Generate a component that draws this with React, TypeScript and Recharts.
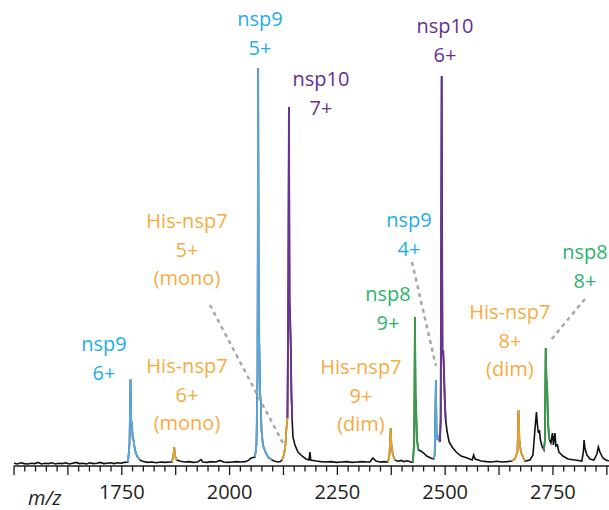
import React from "react";
import { LineChart, Line, XAxis, YAxis, ReferenceLine, ReferenceDot } from "recharts";

type Pt = [number, number];

// ---- spectrum segments: [m/z, relative intensity] ----
const black1: Pt[] = [[1500,0.7],[1508,0.5],[1516,0.8],[1524,0.6],[1532,0.5],[1540,0.7],[1548,0.6],[1556,0.9],[1564,0.5],[1572,0.7],[1580,0.6],[1588,0.8],[1596,0.5],[1604,0.7],[1612,0.6],[1620,0.8],[1628,0.5],[1636,0.7],[1644,0.9],[1652,0.6],[1660,0.7],[1668,0.5],[1676,0.8],[1684,0.6],[1692,0.7],[1700,0.9],[1708,0.6],[1716,0.7],[1724,0.8],[1732,0.6],[1740,0.8],[1748,0.7],[1756,0.9],[1764.4,1.0]];
const nsp9z6: Pt[] = [[1764.4,1.0],[1767.8,5.25],[1770.2,21.75],[1771.8,11.5],[1773.6,10.25],[1775.3,7],[1777.1,6.5],[1780.6,4],[1785.2,2.5],[1792.2,1.5]];
const black2: Pt[] = [[1800,1.1],[1810,0.9],[1820,1.0],[1830,0.8],[1840,1.0],[1850,0.9],[1860,1.0],[1866.4,1.0]];
const nsp7z6: Pt[] = [[1866.4,1.0],[1869.9,2.75],[1871.7,4.75],[1873.4,2.5],[1878,1.5]];
const black3: Pt[] = [[1886,1.2],[1896,1.0],[1906,1.1],[1916,0.9],[1926,1.0],[1934,1.6],[1938,1.0],[1948,0.9],[1958,1.1],[1968,1.0],[1978,1.4],[1986,1.0],[1996,0.9],[2006,1.0],[2016,1.1],[2026,1.0],[2036,1.1],[2044,1.4],[2050,2.0],[2058.9,2.25]];
const nsp9z5: Pt[] = [[2058.9,2.25],[2062.3,5.25],[2064.7,21.5],[2066.3,99.5],[2067.7,34],[2069.1,30.25],[2070.5,18.25],[2072.3,16.5],[2074,9],[2077.4,5.25],[2083.2,3.5],[2089,2.25],[2098.3,1.5]];
const black4: Pt[] = [[2105,1.2],[2112,1.0],[2118,1.1],[2121.5,1.5]];
const nsp7z5: Pt[] = [[2121.5,1.5],[2126.1,2.75],[2129.6,5.25],[2131.9,9.5],[2134.2,12]];
const nsp10z7: Pt[] = [[2134.2,12],[2136.1,41.5],[2137.7,89.75],[2139.1,41.5],[2140.5,36.5],[2141.9,30.25],[2143.5,17.75],[2145.2,11.5]];
const black5: Pt[] = [[2147,7.25],[2151.6,5.25],[2158.6,3.5],[2167.9,2.5],[2177.1,1.75],[2184.1,1.5],[2186.4,3.5],[2188.2,1.5],[2200.3,1.25],[2212,1.1],[2224,1.0],[2236,1.1],[2248,0.9],[2260,1.0],[2272,1.1],[2284,0.9],[2296,1.0],[2308,1.1],[2318,1.0],[2325.6,1.0],[2332.5,2],[2339.5,1.25],[2348,1.0],[2358,1.1],[2367.3,1.0]];
const nsp7z9: Pt[] = [[2367.3,1],[2370.8,2.75],[2373.6,9.5],[2375.4,5.25],[2378.9,2.75],[2383.5,1.5]];
const black6: Pt[] = [[2390,1.2],[2398,1.4],[2404,1.1],[2412,1.3],[2420,1.0],[2425.3,1.0]];
const nsp8z9: Pt[] = [[2425.3,1],[2428.3,6.5],[2429.9,37.25],[2431.3,17.75],[2432.7,14],[2434.6,6.5],[2438,4]];
const black7: Pt[] = [[2443.3,3.75],[2450.2,3.25],[2457.2,2.5],[2466.4,2],[2473.4,1.75]];
const nsp9z4: Pt[] = [[2473.4,1.75],[2475.7,2.75],[2478.5,21.5],[2480.3,6.5],[2482.6,7.5],[2486.1,6.5],[2488,6]];
const nsp10z6: Pt[] = [[2488,6],[2489.6,11.5],[2491.9,97.5],[2493.7,27.75],[2495.4,29],[2497.2,24],[2499.1,16.5],[2501.2,11.5]];
const black8: Pt[] = [[2504.6,8.5],[2509.3,6],[2516.2,4.75],[2525.5,3.5],[2537.1,2.5],[2551,2],[2562.6,1.5],[2566.1,2.75],[2569.6,1.75],[2583.5,1.25],[2596,1.1],[2608,1.0],[2620,1.2],[2632,1.0],[2644,1.1],[2654.8,1.25]];
const nsp7z8: Pt[] = [[2654.8,1.25],[2661.8,1.75],[2667.6,3.5],[2670.1,14],[2672.2,6.5],[2675.7,3.5],[2681.5,2],[2685,1.25]];
const black9: Pt[] = [[2696.6,1.5],[2703.6,2.75],[2708.2,9],[2711.7,13.5],[2714,10.25],[2716.3,8.25],[2718.6,9],[2721,6.5],[2724.4,5],[2729.1,4]];
const nsp8z8: Pt[] = [[2729.1,4],[2731.4,6.5],[2733.2,29.5],[2734.9,21.5],[2736.5,20.25],[2738.3,11.5],[2740.2,8.25],[2742.1,6.5]];
const black10: Pt[] = [[2745.3,5.75],[2748.8,8.25],[2751.1,5.25],[2754.6,8.25],[2756.9,5],[2760.4,5.25],[2763.8,3.5],[2773.1,2.5],[2784.7,1.75],[2800.9,1.5],[2817.1,1.25],[2820.6,3.5],[2822.2,6.5],[2824.1,4.5],[2828.7,2.75],[2835.7,1.75],[2845,1.5],[2851.9,3],[2855.4,4.75],[2858.9,3.5],[2865.8,2],[2872.8,1.5],[2879.8,1.25]];

// ---- axis ticks ----
const minorTicks = [1500,1525,1550,1575,1600,1625,1650,1675,1700,1725,1750,1775,1800,1825,1850,1875,1900,1925,1950,1975,2000,2025,2050,2075,2100,2125,2150,2175,2200,2225,2250,2275,2300,2325,2350,2375,2400,2425,2450,2475,2500,2525,2550,2575,2600,2625,2650,2675,2700,2725,2750,2775,2800,2825,2850,2875];
const majorTicks = [1500,1625,1750,1875,2000,2125,2250,2375,2500,2625,2750,2875];
const labelTicks = [1750,2000,2250,2500,2750];

// ---- colours ----
const BLUE_LINE = "#58a8de";
const BLUE_TEXT = "#1eaeea";
const PURPLE_LINE = "#6b3391";
const PURPLE_TEXT = "#67308f";
const ORANGE_LINE = "#e2a232";
const ORANGE_TEXT = "#f8ab42";
const GREEN_LINE = "#3a9c48";
const GREEN_TEXT = "#2db36c";

// ---- annotations: anchor [m/z, intensity], lines ----
const labelNsp9z5 = { mz: 2070.5, i: 111.5, lines: ["nsp9", "5+"], color: BLUE_TEXT };
const labelNsp10z7 = { mz: 2211.9, i: 96.5, lines: ["nsp10", "7+"], color: PURPLE_TEXT };
const labelNsp10z6 = { mz: 2499.5, i: 109.75, lines: ["nsp10", "6+"], color: PURPLE_TEXT };
const labelNsp9z6 = { mz: 1708.7, i: 30.25, lines: ["nsp9", "6+"], color: BLUE_TEXT };
const labelNsp7z6 = { mz: 1901.2, i: 24.75, lines: ["His-nsp7", "6+", "(mono)"], color: ORANGE_TEXT };
const labelNsp7z5 = { mz: 1901.2, i: 61, lines: ["His-nsp7", "5+", "(mono)"], color: ORANGE_TEXT };
const labelNsp8z9 = { mz: 2367.3, i: 42.75, lines: ["nsp8", "9+"], color: GREEN_TEXT };
const labelNsp9z4 = { mz: 2416, i: 61.25, lines: ["nsp9", "4+"], color: BLUE_TEXT };
const labelNsp7z9 = { mz: 2304.7, i: 24.5, lines: ["His-nsp7", "9+", "(dim)"], color: ORANGE_TEXT };
const labelNsp7z8 = { mz: 2650.2, i: 38.25, lines: ["His-nsp7", "8+", "(dim)"], color: ORANGE_TEXT };
const labelNsp8z8 = { mz: 2824.1, i: 53.25, lines: ["nsp8", "8+"], color: GREEN_TEXT };
const labels = [labelNsp9z5, labelNsp10z7, labelNsp10z6, labelNsp9z6, labelNsp7z6, labelNsp7z5, labelNsp8z9, labelNsp9z4, labelNsp7z9, labelNsp7z8, labelNsp8z8];

// leader lines: [[m/z, i], [m/z, i]]
const leaderNsp7z5: Pt[] = [[1954.5, 40.25], [2126.1, 5.25]];
const leaderNsp9z4: Pt[] = [[2423.0, 51], [2478.6, 25]];
const leaderNsp8z8: Pt[] = [[2824.2, 41.75], [2745.3, 31.5]];
const leaders = [leaderNsp7z5, leaderNsp9z4, leaderNsp8z8];

const toRows = (pts: Pt[]) => pts.map(([mz, i]) => ({ mz, i }));

const coloredSegments: { data: Pt[]; color: string }[] = [
  { data: nsp9z6, color: BLUE_LINE },
  { data: nsp7z6, color: ORANGE_LINE },
  { data: nsp9z5, color: BLUE_LINE },
  { data: nsp7z5, color: ORANGE_LINE },
  { data: nsp10z7, color: PURPLE_LINE },
  { data: nsp7z9, color: ORANGE_LINE },
  { data: nsp8z9, color: GREEN_LINE },
  { data: nsp9z4, color: BLUE_LINE },
  { data: nsp10z6, color: PURPLE_LINE },
  { data: nsp7z8, color: ORANGE_LINE },
  { data: nsp8z8, color: GREEN_LINE },
];

const fullTrace: Pt[] = [
  ...black1, ...nsp9z6, ...black2, ...nsp7z6, ...black3, ...nsp9z5, ...black4,
  ...nsp7z5, ...nsp10z7, ...black5, ...nsp7z9, ...black6, ...nsp8z9, ...black7,
  ...nsp9z4, ...nsp10z6, ...black8, ...nsp7z8, ...black9, ...nsp8z8, ...black10,
];

const FONT = "'Open Sans', 'Noto Sans', sans-serif";

const AxisTick = (props: any) => {
  const { x, y, payload } = props;
  const v = payload.value;
  const major = majorTicks.includes(v);
  const labeled = labelTicks.includes(v);
  return (
    <g>
      <line x1={x} x2={x} y1={y} y2={y + (major ? 9 : 5.5)} stroke="#1a1a1a" strokeWidth={1.3} />
      {labeled && (
        <text x={x} y={y + 33} textAnchor="middle" fontSize={20} fontFamily={FONT} fill="#231f20">
          {v}
        </text>
      )}
    </g>
  );
};

const makeLabelShape = (lines: string[], color: string) => (p: any) => {
  const cx = p.cx;
  const cy = p.cy;
  return (
    <text x={cx} y={cy + 6} textAnchor="middle" fontSize={20} fontFamily={FONT} fill={color}>
      {lines.map((l, k) => (
        <tspan key={k} x={cx} dy={k === 0 ? 0 : 28.5}>
          {l}
        </tspan>
      ))}
    </text>
  );
};

export default function App() {
  return (
    <div style={{ position: "absolute", left: 0, top: 0, width: 609, height: 510, background: "#fff" }}>
      <LineChart width={609} height={510} margin={{ top: 6, right: 0, bottom: 0, left: 14 }}>
        <XAxis
          type="number"
          dataKey="mz"
          domain={[1500, 2880]}
          allowDataOverflow
          ticks={minorTicks}
          interval={0}
          tick={<AxisTick />}
          tickLine={false}
          tickSize={0}
          tickMargin={0}
          height={44}
          axisLine={{ stroke: "#1a1a1a", strokeWidth: 1.5 }}
          label={{
            content: (lp: any) => {
              const vb = lp.viewBox || { x: 14, y: 466 };
              return (
                <text x={vb.x + 14} y={vb.y + 39} fontSize={20} fontStyle="italic" fontFamily={FONT} fill="#231f20">
                  m/z
                </text>
              );
            },
          }}
        />
        <YAxis hide type="number" domain={[0, 115]} allowDataOverflow />
        <Line
          data={toRows(fullTrace)}
          dataKey="i"
          type="linear"
          stroke="#111"
          strokeWidth={1.6}
          dot={false}
          activeDot={false}
          isAnimationActive={false}
        />
        {coloredSegments.map((s, k) => (
          <Line
            key={k}
            data={toRows(s.data)}
            dataKey="i"
            type="linear"
            stroke={s.color}
            strokeWidth={1.9}
            dot={false}
            activeDot={false}
            isAnimationActive={false}
          />
        ))}
        {leaders.map((seg, k) => (
          <ReferenceLine
            key={"l" + k}
            segment={[{ x: seg[0][0], y: seg[0][1] }, { x: seg[1][0], y: seg[1][1] }]}
            stroke="#a5a7aa"
            strokeWidth={2.5}
            strokeDasharray="4 4"
            ifOverflow="visible"
          />
        ))}
        {labels.map((lb, k) => (
          <ReferenceDot
            key={"d" + k}
            x={lb.mz}
            y={lb.i}
            r={1}
            ifOverflow="visible"
            shape={makeLabelShape(lb.lines, lb.color)}
          />
        ))}
      </LineChart>
    </div>
  );
}
